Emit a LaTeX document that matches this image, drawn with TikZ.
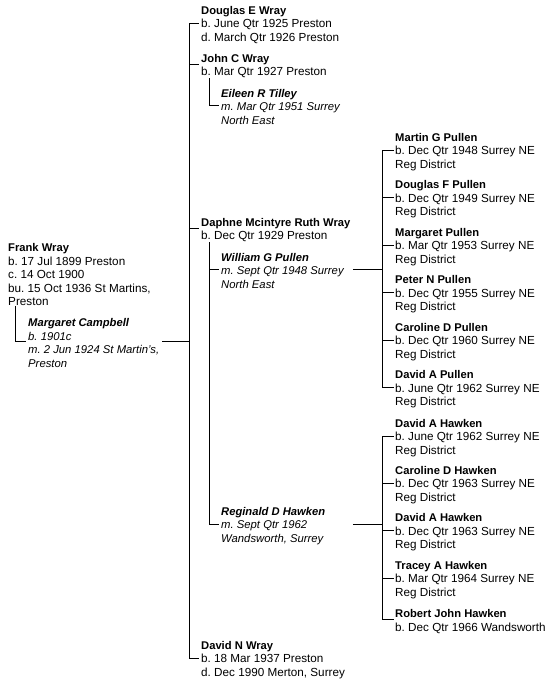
\documentclass[tikz,border=0pt]{standalone}
\usepackage{fontspec}
\setmainfont{Liberation Sans}
\frenchspacing
\tikzset{
  person/.style = {anchor=west, inner sep=0pt, align=left, font=\fontsize{11.7}{13.5}\selectfont},
  spouse/.style = {person, font=\fontsize{11.3}{13.5}\selectfont\itshape},
  link/.style = {line width=1pt}
}
\newcommand{\pname}[1]{{\rule{0pt}{12pt}\fontsize{11.2}{13.5}\selectfont\bfseries #1}}

\begin{document}
\begin{tikzpicture}[x=1pt, y=-1pt]

  \useasboundingbox (0,0) rectangle (552,688);

  %% Frank Wray and Margaret Campbell

  % Parents
  \node[person] (frank) at (8,273) {\pname{Frank Wray}\\b. 17 Jul 1899 Preston\\c. 14 Oct 1900\\bu. 15 Oct 1936 St Martins,\\Preston};
  \node[spouse] (margaret) at (28,341) {\pname{Margaret Campbell}\\b. 1901c\\m. 2 Jun 1924 St Martin's,\\Preston};
  \draw[link] ([xshift=7pt]frank.south west) |- ([xshift=-2pt]margaret.west);

  % Children
  \coordinate (wraybar) at (189,341);
  \node[person] (douglas) at (201,23) {\pname{Douglas E Wray}\\b. June Qtr 1925 Preston\\d. March Qtr 1926 Preston};
  \node[person] (john) at (201,64) {\pname{John C Wray}\\b. Mar Qtr 1927 Preston};
  \node[person] (daphne) at (201,228) {\pname{Daphne Mcintyre Ruth Wray}\\b. Dec Qtr 1929 Preston};
  \node[person] (davidn) at (201,658) {\pname{David N Wray}\\b. 18 Mar 1937 Preston\\d. Dec 1990 Merton, Surrey};
  \draw[link] ([xshift=3pt]margaret.east) -- (wraybar);
  \draw[link] (wraybar) |- ([xshift=-2pt]douglas.west);
  \draw[link] (wraybar) |- ([xshift=-2pt]john.west);
  \draw[link] (wraybar) |- ([xshift=-2pt]daphne.west);
  \draw[link] (wraybar) |- ([xshift=-2pt]davidn.west);

  % John's spouse
  \node[spouse] (eileen) at (221,105) {\pname{Eileen R Tilley}\\m. Mar Qtr 1951 Surrey\\North East};
  \draw[link] ([xshift=8pt]john.south west) |- ([xshift=-2pt]eileen.west);

  % Daphne's spouses
  \node[spouse] (william) at (221,269) {\pname{William G Pullen}\\m. Sept Qtr 1948 Surrey\\North East};
  \node[spouse] (reginald) at (221,524) {\pname{Reginald D Hawken}\\m. Sept Qtr 1962\\Wandsworth, Surrey};
  \draw[link] ([xshift=8pt]daphne.south west) |- ([xshift=-2pt]william.west);
  \draw[link] ([xshift=8pt]daphne.south west) |- ([xshift=-2pt]reginald.west);

  %% Pullen children
  \coordinate (pullenbar) at (382,269);
  \node[person] (martin) at (395,150) {\pname{Martin G Pullen}\\b. Dec Qtr 1948 Surrey NE\\Reg District};
  \node[person] (douglasf) at (395,197.5) {\pname{Douglas F Pullen}\\b. Dec Qtr 1949 Surrey NE\\Reg District};
  \node[person] (margaretp) at (395,245) {\pname{Margaret Pullen}\\b. Mar Qtr 1953 Surrey NE\\Reg District};
  \node[person] (peter) at (395,292.5) {\pname{Peter N Pullen}\\b. Dec Qtr 1955 Surrey NE\\Reg District};
  \node[person] (carolinep) at (395,340) {\pname{Caroline D Pullen}\\b. Dec Qtr 1960 Surrey NE\\Reg District};
  \node[person] (davidp) at (395,387.5) {\pname{David A Pullen}\\b. June Qtr 1962 Surrey NE\\Reg District};
  \draw[link] ([xshift=9pt]william.east) -- (pullenbar);
  \draw[link] (pullenbar) |- ([xshift=-1.5pt]martin.west);
  \draw[link] (pullenbar) |- ([xshift=-1.5pt]douglasf.west);
  \draw[link] (pullenbar) |- ([xshift=-1.5pt]margaretp.west);
  \draw[link] (pullenbar) |- ([xshift=-1.5pt]peter.west);
  \draw[link] (pullenbar) |- ([xshift=-1.5pt]carolinep.west);
  \draw[link] (pullenbar) |- ([xshift=-1.5pt]davidp.west);

  %% Hawken children
  \coordinate (hawkenbar) at (382,524);
  \node[person] (davidh) at (395,436) {\pname{David A Hawken}\\b. June Qtr 1962 Surrey NE\\Reg District};
  \node[person] (carolineh) at (395,483) {\pname{Caroline D Hawken}\\b. Dec Qtr 1963 Surrey NE\\Reg District};
  \node[person] (davidah) at (395,530.5) {\pname{David A Hawken}\\b. Dec Qtr 1963 Surrey NE\\Reg District};
  \node[person] (tracey) at (395,578) {\pname{Tracey A Hawken}\\b. Mar Qtr 1964 Surrey NE\\Reg District};
  \node[person] (robert) at (395,619.5) {\pname{Robert John Hawken}\\b. Dec Qtr 1966 Wandsworth};
  \draw[link] (reginald.east -| william.east) ++(9pt,0) -- (hawkenbar);
  \draw[link] (hawkenbar) |- ([xshift=-1.5pt]davidh.west);
  \draw[link] (hawkenbar) |- ([xshift=-1.5pt]carolineh.west);
  \draw[link] (hawkenbar) |- ([xshift=-1.5pt]davidah.west);
  \draw[link] (hawkenbar) |- ([xshift=-1.5pt]tracey.west);
  \draw[link] (hawkenbar) |- ([xshift=-1.5pt]robert.west);

\end{tikzpicture}
\end{document}
